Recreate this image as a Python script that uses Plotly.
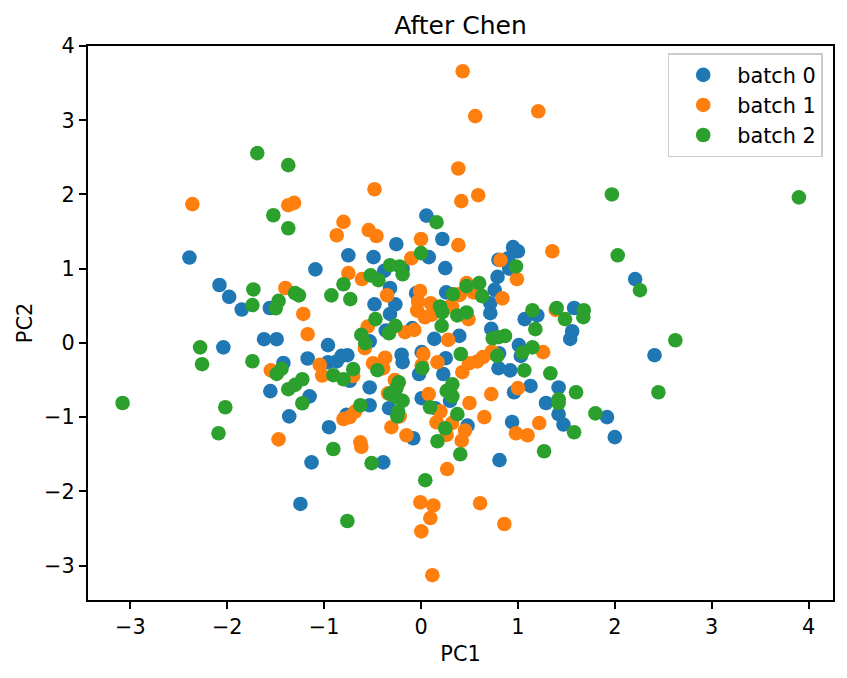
import plotly.graph_objects as go

BATCH_NAMES = ["batch 0", "batch 1", "batch 2"]
COLORS = ["#1f77b4", "#ff7f0e", "#2ca02c"]

# PC coordinates per batch
batch0_pc1 = [-2.39, -2.08, -1.98, -1.85, -1.56, -1.09, -0.75, -0.49, -0.255, -0.38, -0.19, -0.32,
              -0.48, -0.265, -0.32, -0.05, -0.09, 0.055, 0.22, 0.08, 0.25, 0.95, 1.0, 0.80, 0.90,
              0.91, 0.79, 0.76, 0.715, 0.715, 0.26, 1.20, 1.07, 1.58, 1.56, 1.54, 2.21, 0.725,
              -2.04, -1.62, -1.49, -1.42, -1.555, -1.15, -1.36, -1.17, -0.96, -0.96, -0.87, -0.82,
              -0.76, -0.95, -1.13, -1.245, -0.39, -0.53, -0.53, -0.33, -0.77, -0.736, -0.53, -0.364,
              -0.2, -0.19, 0.137, 0.395, 0.007, 0.255, -0.02, 0.23, 1.01, 0.805, 1.03, 0.80, 0.92,
              1.13, 0.96, 1.42, 1.29, 1.42, 1.47, 1.92, 2.0, 2.41, 0.94, 0.81, 0.007, 0.30, 0.145,
              0.48, -0.08]
batch0_pc2 = [1.15, 0.78, 0.62, 0.45, 0.47, 0.99, 1.18, 1.155, 1.33, 0.97, 1.0, 0.74,
              0.52, 0.52, 0.39, 0.67, 0.2, 1.715, 1.40, 1.155, 1.007, 1.29, 1.235, 1.12, 1.14,
              1.0, 0.89, 0.715, 0.535, 0.40, 0.68, 0.37, 0.32, 0.47, 0.157, 0.054, 0.86, 0.19,
              -0.06, 0.05, 0.05, -0.27, -0.65, -0.72, -0.99, -0.21, -0.03, -0.26, -0.25, -0.175,
              -0.166, -1.136, -1.61, -2.17, -1.61, -0.6, -0.84, -0.88, -0.97, -0.51, 0.02, 0.166,
              -0.16, -0.26, 0.054, 0.094, -0.125, -0.206, -0.42, -0.42, -0.03, -0.14, -0.175, -0.34, -0.37,
              -0.58, -0.665, -0.60, -0.81, -0.96, -1.10, -1.0, -1.27, -0.166, -1.065, -1.58, -0.745, -0.78, -0.88,
              -1.115, -1.285]

batch1_pc1 = [-2.36, -0.48, -1.31, -1.37, -0.80, -0.87, -0.54, -0.46, -0.10, 0.0, -0.75, -0.61,
              -1.40, -1.215, -0.35, -0.55, 0.43, 0.56, 1.21, 0.385, 0.59, 0.416, 0.385, 1.355,
              0.82, 0.99, 0.84, 0.47, 0.54, 0.385, -0.01, 0.10, 0.32, -0.04, 0.49, 1.39,
              -0.03, 0.04, 0.11, 0.30, 0.40, -0.165, -0.07, 0.28, 0.64, 0.58, 0.495, 0.426, 0.73,
              0.17, 0.024, 0.007, -1.55, -1.045, -1.02, -1.17, -0.58, -0.495, -0.39, -0.37, -0.70,
              -0.27, -0.34, -0.68, -0.736, -0.80, -0.22, -0.306, -0.15, -0.626, -0.616, -1.47,
              1.26, 1.0, 0.725, 0.50, 0.08, 0.653, 0.2, 0.16, 0.32, 0.454, 0.265, 0.42, 0.27,
              1.22, 0.98, 1.10, 0.61, -0.007, 0.127, 0.096, 0.003, 0.86, 0.117, 0.75]
batch1_pc2 = [1.87, 2.07, 1.887, 1.855, 1.63, 1.45, 1.52, 1.44, 1.14, 1.40, 0.94, 0.86,
              0.74, 0.39, 0.64, 0.22, 3.66, 3.055, 3.12, 2.35, 1.99, 1.91, 1.317, 1.235,
              1.115, 0.86, 0.60, 0.805, 0.68, 0.656, 0.70, 0.535, 0.49, 0.435, 0.32, 0.445,
              0.555, 0.345, 0.38, 0.49, 0.647, 0.144, 0.175, 0.04, -0.19, -0.25, -0.274, -0.395, -0.117,
              -0.26, -0.15, -0.30, -0.37, -0.296, -0.44, 0.117, -0.07, -0.274, -0.34, -0.2, -0.445,
              -0.50, -0.68, -0.925, -1.0, -1.025, -0.99, -1.136, -1.245, -1.34, -1.40, -1.30,
              -0.125, -0.61, -0.69, -0.81, -0.69, -1.0, -0.925, -1.07, -1.08, -1.18, -1.24, -1.317, -1.70,
              -1.08, -1.217, -1.244, -2.16, -2.147, -2.19, -2.36, -2.54, -2.44, -3.13, -0.14]

batch2_pc1 = [-1.69, -1.37, -1.524, -1.37, -1.73, -1.74, -1.47, -1.50, -1.30, -1.26, -0.925, -0.80,
              -0.73, -0.52, -0.44, -0.32, -0.22, -0.19, -0.47, -0.265, 0.0, 0.16, 1.97, 3.90,
              2.03, 2.26, 0.98, 0.60, 0.47, 0.63, 0.33, 0.196, 0.22, 0.375, 0.47, 1.15, 1.40,
              1.486, 1.68, 1.675, 0.213, -0.616, -0.575, -0.33, -2.28, -2.26, -1.74, -3.08, -2.02, -2.09,
              -1.44, -1.49, -1.37, -1.30, -1.225, -1.225, -0.905, -0.80, -0.70, -0.45, -0.626,
              -0.905, -0.51, -0.76, -0.23, -0.255, -0.32, -0.255, -0.19, -0.237, -0.245, 1.18,
              0.867, 0.80, 0.74, 1.15, 1.045, 0.787, 0.41, 1.066, 1.335, 1.60, 1.42, 1.42, 1.80,
              2.45, 2.625, 1.58, 1.27, 0.405, 0.25, 0.375, 0.17, 0.093, 0.013, 0.323, 0.265, 0.323,
              0.30, 0.044]
batch2_pc2 = [2.557, 2.395, 1.72, 1.545, 0.72, 0.51, 0.566, 0.467, 0.67, 0.64, 0.64, 0.79,
              0.59, 0.91, 0.845, 1.047, 1.03, 0.925, 0.32, 0.23, 1.21, 1.626, 2.0, 1.96,
              1.18, 0.71, 1.03, 0.805, 0.765, 0.63, 0.656, 0.49, 0.415, 0.37, 0.41, 0.44, 0.47,
              0.32, 0.44, 0.346, 0.23, 0.108, -0.004, 0.13, -0.06, -0.287, -0.247, -0.81, -0.867, -1.217,
              -0.35, -0.418, -0.624, -0.566, -0.49, -0.813, -0.435, -0.49, -0.354, -0.368, -0.84,
              -1.43, -1.62, -2.40, -0.53, -0.61, -0.687, -0.73, -0.78, -0.925, -0.99, 0.185,
              0.094, 0.077, 0.063, -0.06, -0.13, -0.175, -0.15, -0.37, -0.41, -0.665, -0.81, -0.76, -0.95,
              -0.665, 0.036, -1.204, -1.46, -1.50, -1.15, -0.96, -1.325, -0.867, -0.34, -0.557, -0.647, -0.72,
              -0.68, -1.85]

TICKS = [-3, -2, -1, 0, 1, 2, 3, 4]

fig = go.Figure()
for name, color, xs, ys in zip(
    BATCH_NAMES,
    COLORS,
    [batch0_pc1, batch1_pc1, batch2_pc1],
    [batch0_pc2, batch1_pc2, batch2_pc2],
):
    fig.add_trace(go.Scatter(
        x=xs, y=ys, mode="markers", name=name,
        marker=dict(color=color, size=14.6, line=dict(width=0)),
    ))

axis_style = dict(
    showgrid=False, zeroline=False, showline=True, mirror=True,
    linecolor="#000000", linewidth=1.67,
    ticks="outside", ticklen=7.3, tickwidth=1.67, tickcolor="#000000",
    tickvals=TICKS,
    tickfont=dict(size=20.8, color="#000000"),
)

fig.update_layout(
    width=847, height=678,
    margin=dict(l=88, r=14, t=46, b=78),
    paper_bgcolor="white", plot_bgcolor="white",
    font=dict(family="DejaVu Sans", color="#000000"),
    title=dict(
        text="After Chen", font=dict(size=25, color="#000000"),
        x=0.5, xanchor="center", xref="paper",
        y=0.9625, yanchor="middle", yref="container",
    ),
    xaxis=dict(
        range=[-3.437, 4.252],
        title=dict(text="PC1", font=dict(size=20.8), standoff=8),
        **axis_style,
    ),
    yaxis=dict(
        range=[-3.464, 4.0],
        title=dict(text="PC2", font=dict(size=20.8), standoff=6),
        **axis_style,
    ),
    legend=dict(
        x=0.986, xanchor="right", y=0.987, yanchor="top",
        bgcolor="rgba(255,255,255,0.8)", bordercolor="#cccccc", borderwidth=1.67,
        font=dict(size=20.8, color="#000000"), itemsizing="trace", itemwidth=58,
    ),
)

fig.write_html("out.html", config=dict(displayModeBar=False))
